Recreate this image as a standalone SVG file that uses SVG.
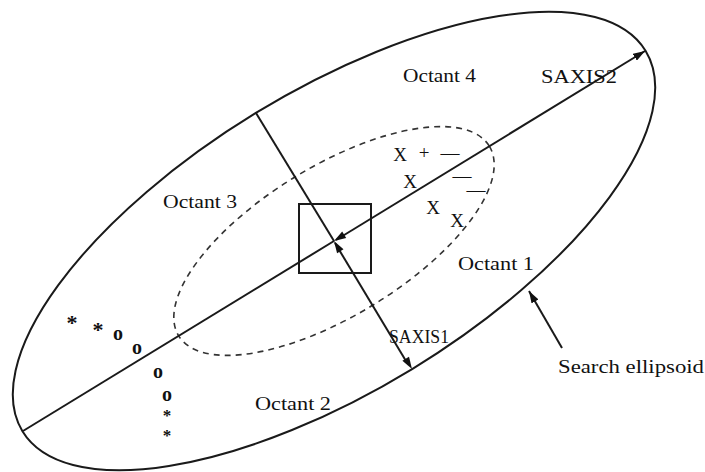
<svg xmlns="http://www.w3.org/2000/svg" width="705" height="472" viewBox="0 0 705 472">
<style>
.ln{stroke:#1a1a1a;stroke-width:2;fill:none}
.dash{stroke:#333;stroke-width:1.6;fill:none;stroke-dasharray:6 5}
.t{font-family:"Liberation Serif","Times New Roman",serif;font-size:18px;fill:#111}
.m{font-family:"Liberation Serif","Times New Roman",serif;fill:#111;text-anchor:middle}
.hd{fill:#111}
</style>
<defs>
<marker id="ah" viewBox="0 0 12 8" refX="12" refY="4" markerWidth="12" markerHeight="8" markerUnits="userSpaceOnUse" orient="auto">
<path d="M0,0 L12,4 L0,8 Z" fill="#111"/>
</marker>
</defs>
<rect width="705" height="472" fill="#fff"/>
<g id="outer-ellipse">
<ellipse class="ln" cx="334" cy="241" rx="365" ry="150" transform="rotate(-31.4 334 241)"/>
</g>
<g id="inner-ellipse">
<ellipse class="dash" cx="334" cy="241" rx="182" ry="75" transform="rotate(-31.4 334 241)"/>
</g>
<g id="box">
<rect class="ln" x="299" y="204" width="72" height="69"/>
</g>
<g id="connectors">
<line class="ln" x1="334" y1="241" x2="23" y2="431"/>
<line class="ln" x1="334" y1="241" x2="256" y2="113"/>
<line class="ln" x1="336" y1="240" x2="645" y2="51" marker-end="url(#ah)"/>
<line class="ln" x1="335" y1="243" x2="406" y2="361"/>
<path class="hd" d="M334,241 L342.2,231.4 L346.2,238 Z"/>
<path class="hd" d="M334,241 L343.5,249.2 L337.1,253.2 Z"/>
<path class="hd" d="M412,369 L409,356.8 L402.4,360.8 Z"/>
<line class="ln" x1="562" y1="348" x2="529" y2="291" marker-end="url(#ah)"/>
</g>
<g id="labels">
<text class="t" x="403" y="82" textLength="73" lengthAdjust="spacingAndGlyphs">Octant 4</text>
<text class="t" x="541" y="83" textLength="76" lengthAdjust="spacingAndGlyphs">SAXIS2</text>
<text class="t" x="163" y="208" textLength="74" lengthAdjust="spacingAndGlyphs">Octant 3</text>
<text class="t" x="458" y="270" textLength="76" lengthAdjust="spacingAndGlyphs">Octant 1</text>
<text class="t" x="389" y="343" textLength="60" lengthAdjust="spacingAndGlyphs">SAXIS1</text>
<text class="t" x="255" y="410" textLength="76" lengthAdjust="spacingAndGlyphs">Octant 2</text>
<text class="t" x="558" y="373" font-size="17" textLength="146" lengthAdjust="spacingAndGlyphs">Search ellipsoid</text>
</g>
<g id="markers-x">
<text class="m" x="400" y="161" font-size="19">X</text>
<text class="m" x="424" y="159" font-size="19">+</text>
<text class="m" x="450" y="159" font-size="19">—</text>
<text class="m" x="410" y="188" font-size="19">X</text>
<text class="m" x="462" y="182" font-size="19">—</text>
<text class="m" x="476" y="196" font-size="19">—</text>
<text class="m" x="433" y="214" font-size="19">X</text>
<text class="m" x="457" y="227" font-size="19">X</text>
</g>
<g id="markers-o">
<text class="m" x="72" y="330" font-size="22" font-weight="bold">*</text>
<text class="m" x="98" y="337" font-size="22" font-weight="bold">*</text>
<text class="m" x="118" y="340" font-size="20" font-weight="bold">o</text>
<text class="m" x="137" y="354" font-size="20" font-weight="bold">o</text>
<text class="m" x="158" y="378" font-size="20" font-weight="bold">o</text>
<text class="m" x="167" y="401" font-size="20" font-weight="bold">o</text>
<text class="m" x="167" y="421" font-size="17" font-weight="bold">*</text>
<text class="m" x="167" y="441" font-size="17" font-weight="bold">*</text>
</g>
</svg>
